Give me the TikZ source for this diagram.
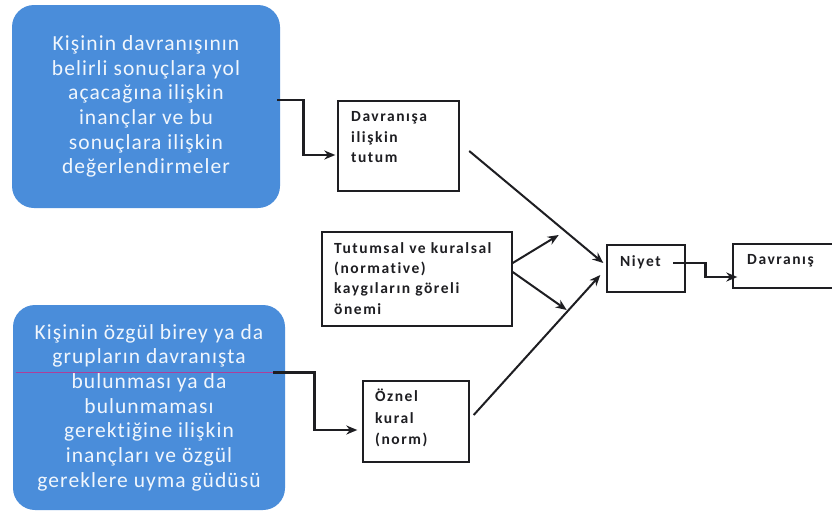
\documentclass[tikz,border=0pt]{standalone}
\usepackage{fontspec}
\setmainfont{Carlito}
\newfontfamily\panelface[LetterSpace=5,Ligatures=NoCommon]{Carlito}
\newfontfamily\stageface[LetterSpace=10,Ligatures=NoCommon]{Carlito}
\usetikzlibrary{arrows.meta,calc}
\definecolor{panelblue}{RGB}{74,141,218}
\definecolor{panelink}{RGB}{240,246,253}
\definecolor{inkline}{RGB}{30,30,34}

\begin{document}
\begin{tikzpicture}[x=1pt,y=-1pt,
  panel/.style={fill=panelblue, rounded corners=22pt, text=panelink, align=center,
    inner sep=0pt, font=\panelface\fontsize{21.5}{24.7}\selectfont},
  stagebox/.style={draw=inkline, line width=1.4pt, fill=white, inner sep=0pt},
  stagetext/.style={anchor=base west, align=left, inner sep=0pt, text=inkline,
    font=\stageface\bfseries\fontsize{15.5}{20.3}\selectfont},
  elbow/.style={draw=inkline, line width=2.6pt, -{Stealth[length=11pt,width=9pt]}},
  slant/.style={draw=inkline, line width=2pt, -{Stealth[length=11pt,width=9pt]}}
]
\clip (0,0) rectangle (832,514);
\fill[white] (0,0) rectangle (832,514);

% blue belief panels
\node[panel, minimum width=268pt, minimum height=203pt] (belief) at (146,106.5)
  {Kişinin davranışının\\belirli sonuçlara yol\\açacağına ilişkin\\inançlar ve bu\\sonuçlara ilişkin\\değerlendirmeler};
\node[panel, minimum width=272pt, minimum height=205pt] (normbelief) at (149,407.5)
  {Kişinin özgül birey ya da\\grupların davranışta\\bulunması ya da\\bulunmaması\\gerektiğine ilişkin\\inançları ve özgül\\gereklere uyma güdüsü};

% framed stages (text placed by the baseline of its last line)
\node[stagebox, minimum width=121pt, minimum height=90pt] (tutum) at (398.5,146) {};
\node[stagetext] (tutumtext) at (351,162.3) {Davranışa\\ilişkin\\tutum};

\node[stagebox, minimum width=190pt, minimum height=94pt] (onem) at (417,279) {};
\node[stagetext] (onemtext) at (334,314.2) {Tutumsal ve kuralsal\\(normative)\\kaygıların göreli\\önemi};

\node[stagebox, minimum width=106pt, minimum height=81pt] (oznel) at (416,421.5) {};
\node[stagetext, font=\stageface\bfseries\fontsize{15.5}{21.5}\selectfont] (ozneltext) at (375,444.5) {Öznel\\kural\\(norm)};

\node[stagebox, minimum width=78pt, minimum height=47pt] (niyet) at (646,268.5) {};
\node[stagetext] (niyettext) at (620,266.7) {Niyet};

\node[stagebox, minimum width=110pt, minimum height=44pt] (davranis) at (788,266) {};
\node[stagetext] (davranistext) at (747,264.3) {Davranış};

% faint trace of the lower connector across the panel
\draw[draw=red!60!magenta, line width=0.5pt, opacity=0.55]
  ($(normbelief.west)+(3,-35)$) -- ($(normbelief.east)+(-12,-35)$);

% elbow connectors
\draw[elbow] ($(belief.east)+(-3,-6.5)$) -| ($(tutum.west)+(-34,9)$) -- ($(tutum.west)+(-2,9)$);
\draw[elbow] ($(normbelief.east)+(-12,-35)$) -| ($(oznel.west)+(-48,8.5)$) -- ($(oznel.west)+(-5,8.5)$);
\draw[elbow] ($(niyet.center)+(27,-5.5)$) -| ($(davranis.west)+(-27,11)$) -- ($(davranis.west)+(5,11)$);

% slanted arrows into intention
\draw[slant] ($(tutum.east)+(9.5,5)$) -- ($(niyet.west)+(-3,-5.5)$);
\draw[slant] ($(oznel.east)+(4,-6.5)$) -- ($(niyet.west)+(-6,6.5)$);
\coordinate (upfree) at ($(onem.east)+(46,-44)$);
\coordinate (downfree) at ($(onem.east)+(54,31)$);
\draw[slant] ($(onem.east)+(0,-16)$) -- (upfree);
\draw[slant] ($(onem.east)+(0,-7)$) -- (downfree);
\end{tikzpicture}
\end{document}
